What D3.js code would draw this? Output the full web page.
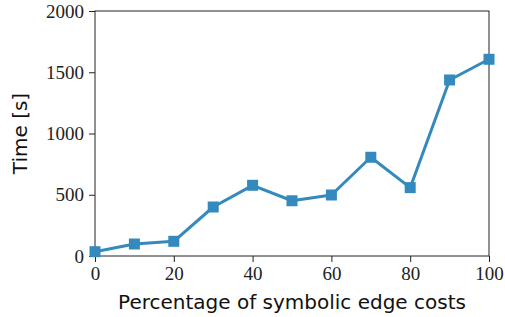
<!DOCTYPE html>
<html><head><meta charset="utf-8">
<script src="https://cdn.jsdelivr.net/npm/d3@7"></script>
<style>body{margin:0;background:#fff}</style>
</head><body><svg id="c" width="505" height="317"></svg>
<script>
const xValues = [0,10,20,30,40,50,60,70,80,90,100];
const timeValues = [35,98,120,400,577,451,498,806,558,1437,1606];
const xTicks = [0,20,40,60,80,100];
const yTicks = [0,500,1000,1500,2000];

const svg = d3.select("#c");
const m = {l:95,r:489,t:11,b:256};
const x = d3.scaleLinear().domain([0,100]).range([m.l,m.r]);
const y = d3.scaleLinear().domain([0,2000]).range([m.b,m.t]);
const serif = "'Liberation Serif','DejaVu Serif',serif";
const sans = "'DejaVu Sans','Noto Sans',sans-serif";

const gx = svg.append("g").attr("transform",`translate(0,${m.b})`)
  .call(d3.axisBottom(x).tickValues(xTicks).tickSize(6).tickPadding(5).tickFormat(d3.format("d")));
const gy = svg.append("g").attr("transform",`translate(${m.l},0)`)
  .call(d3.axisLeft(y).tickValues(yTicks).tickSize(6).tickPadding(5).tickFormat(d3.format("d")));
[gx,gy].forEach(g=>{
  g.selectAll("text").attr("font-family",serif).attr("font-size",19).attr("fill","#222");
  g.selectAll("line").attr("stroke","#222");
  g.select(".domain").remove();
});
svg.append("rect").attr("x",m.l).attr("y",m.t).attr("width",m.r-m.l).attr("height",m.b-m.t)
  .attr("fill","none").attr("stroke","#222").attr("stroke-width",1);

const data = xValues.map((v,i)=>({x:v,y:timeValues[i]}));
svg.append("path").datum(data).attr("fill","none").attr("stroke","#348ABD")
  .attr("stroke-width",3).attr("stroke-linejoin","round")
  .attr("d",d3.line().x(d=>x(d.x)).y(d=>y(d.y)));
const s = 11;
svg.selectAll("rect.pt").data(data).enter().append("rect").attr("class","pt")
  .attr("x",d=>x(d.x)-s/2).attr("y",d=>y(d.y)-s/2).attr("width",s).attr("height",s)
  .attr("fill","#348ABD");

svg.append("text").attr("x",(m.l+m.r)/2).attr("y",309).attr("text-anchor","middle")
  .attr("font-family",sans).attr("font-size",20).attr("fill","#111")
  .text("Percentage of symbolic edge costs");
svg.append("text").attr("transform",`translate(27,${(m.t+m.b)/2}) rotate(-90)`)
  .attr("text-anchor","middle").attr("font-family",sans).attr("font-size",20).attr("fill","#111")
  .text("Time [s]");
</script></body></html>
